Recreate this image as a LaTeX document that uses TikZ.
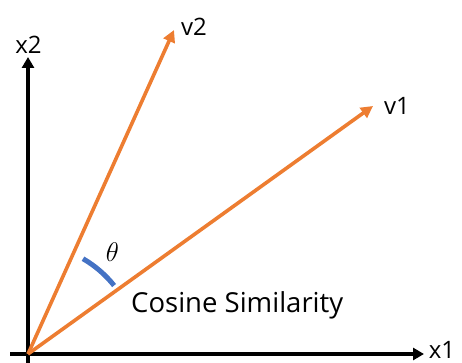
\RequirePackage{fix-cm}
\documentclass[tikz,border=0pt]{standalone}
\usepackage{fontspec}
\setmainfont{Open Sans}
\usepackage{tikz}
\usetikzlibrary{arrows.meta,positioning}
\definecolor{VecOrange}{HTML}{ED7D31}
\definecolor{ArcBlue}{HTML}{4472C4}

\begin{document}
\begin{tikzpicture}[
  x=1pt,y=1pt,
  axis/.style={line width=4.6pt,-{Triangle[length=11pt,width=12pt]}},
  vec/.style={VecOrange,line width=3.6pt,-{Triangle[length=12pt,width=12pt]}},
  lbl/.style={inner sep=0pt,font=\fontsize{24}{28}\selectfont},
  anglearc/.style={ArcBlue,line width=5pt}
]
\useasboundingbox (0,0) rectangle (462,363);
\coordinate (O) at (28,9);
\coordinate (xstart) at (10,9);
\coordinate (ystart) at (28,0);
\coordinate (xtip) at (424,9);
\coordinate (ytip) at (28,306);
\coordinate (v1tip) at (373,257);
\coordinate (v2tip) at (174,333);
\node[lbl] (x1) at (442,13.5) {x1};
\node[lbl] (x2) at (28.5,318) {x2};
\node[lbl] (v1) at (397,257.5) {v1};
\node[lbl] (v2) at (194,336) {v2};
\node[lbl,font=\fontsize{27}{32}\selectfont] (theta) at (112.5,110.5) {$\theta$};
\node[lbl,font=\fontsize{27.5}{32}\selectfont,anchor=base west] (cos) at (131,50) {Cosine Similarity};
\draw[axis] (xstart) -- (xtip);
\draw[axis] (ystart) -- (ytip);
\draw[vec] (O) -- (v1tip);
\draw[vec] (O) -- (v2tip);
\draw[anglearc] ([shift={(38.5:110)}]O) arc[start angle=38.5,end angle=60,radius=110];
\end{tikzpicture}
\end{document}
